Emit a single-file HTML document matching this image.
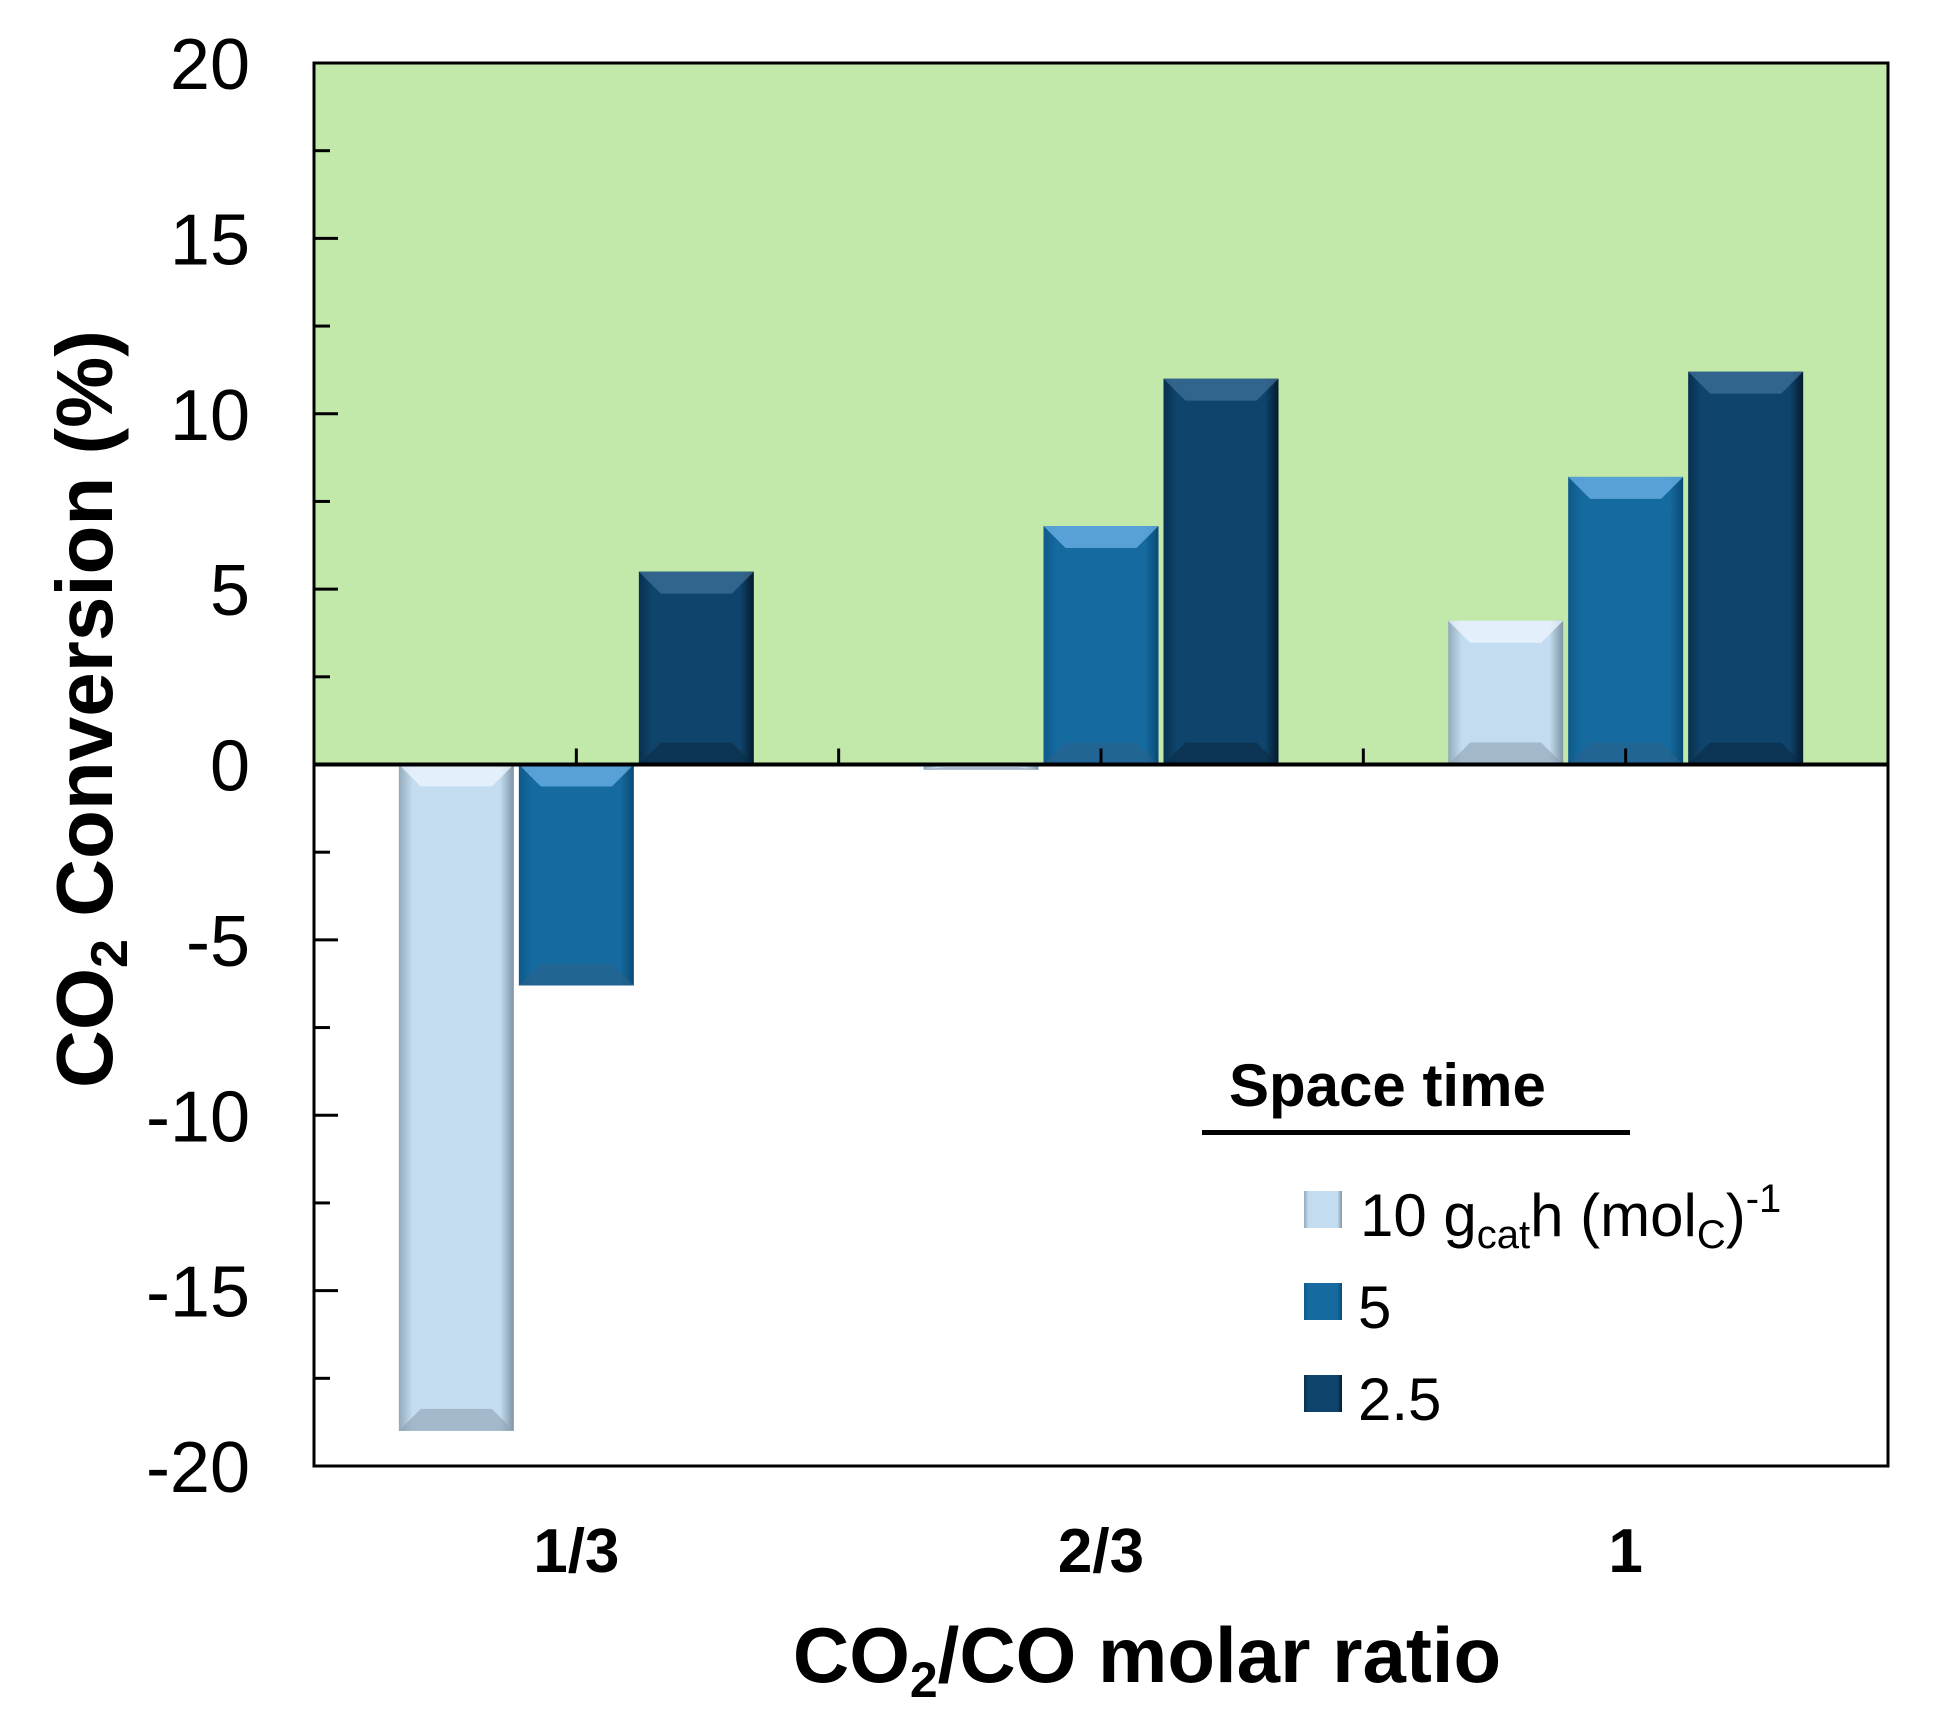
<!DOCTYPE html>
<html><head><meta charset="utf-8"><style>
html,body{margin:0;padding:0;background:#fff;}
svg{display:block;font-family:"Liberation Sans",Arial,sans-serif;}
</style></head><body>
<svg id="chart" width="1934" height="1728" viewBox="0 0 1934 1728">
<defs>
<linearGradient id="g0" x1="0" x2="1" y1="0" y2="0"><stop offset="0" stop-color="#93aabb"/><stop offset="0.12" stop-color="#c3dcef"/><stop offset="0.88" stop-color="#c3dcef"/><stop offset="1" stop-color="#7f95a6"/></linearGradient>
<linearGradient id="g1" x1="0" x2="1" y1="0" y2="0"><stop offset="0" stop-color="#0f5a8a"/><stop offset="0.12" stop-color="#156aa0"/><stop offset="0.88" stop-color="#156aa0"/><stop offset="1" stop-color="#0a4a75"/></linearGradient>
<linearGradient id="g2" x1="0" x2="1" y1="0" y2="0"><stop offset="0" stop-color="#08304f"/><stop offset="0.12" stop-color="#0f456d"/><stop offset="0.88" stop-color="#0f456d"/><stop offset="1" stop-color="#041a2c"/></linearGradient>
</defs>
<rect x="314" y="63" width="1574" height="701" fill="#c2e9aa"/>
<g id="bars"></g>
<g id="axes"></g>
<text transform="translate(112,709) rotate(-90)" text-anchor="middle" font-size="80" font-weight="bold">CO<tspan font-size="52" dy="15">2</tspan><tspan dy="-15"> Conversion (%)</tspan></text>
<text x="1147" y="1682" text-anchor="middle" font-size="78" font-weight="bold">CO<tspan font-size="50" dy="15">2</tspan><tspan dy="-15">/CO molar ratio</tspan></text>
<g>
<text x="1229" y="1106" font-size="60" font-weight="bold">Space time</text>
<rect x="1202" y="1130" width="428" height="5" fill="#000"/>
<rect x="1304" y="1191" width="38" height="37" fill="url(#g0)"/>
<text x="1360" y="1236" font-size="60">10 g<tspan font-size="40" dy="12">cat</tspan><tspan dy="-12">h (mol</tspan><tspan font-size="40" dy="12">C</tspan><tspan dy="-12">)</tspan><tspan font-size="40" dy="-24">-1</tspan></text>
<rect x="1304" y="1283" width="38" height="37" fill="url(#g1)"/>
<text x="1358" y="1328" font-size="60">5</text>
<rect x="1304" y="1375" width="38" height="37" fill="url(#g2)"/>
<text x="1358" y="1420" font-size="60">2.5</text>
</g>
</svg>
<script>
const categories = ["1/3", "2/3", "1"];
const series10 = [-19.0, -0.15, 4.1];
const series5 = [-6.3, 6.8, 8.2];
const series25 = [5.5, 11.0, 11.2];
const yTicks = [20, 15, 10, 5, 0, -5, -10, -15, -20];

const NS = "http://www.w3.org/2000/svg";
const L = 314, R = 1888, T = 63, B = 1466;
const yMin = -20, yMax = 20;
function y(v){ return B - (v - yMin) / (yMax - yMin) * (B - T); }
const bandW = (R - L) / categories.length;
function xc(i){ return L + bandW * (i + 0.5); }
function mk(tag, attrs, parent){ const e = document.createElementNS(NS, tag); for (const k in attrs) e.setAttribute(k, attrs[k]); parent.appendChild(e); return e; }

const barsG = document.getElementById('bars');
const axesG = document.getElementById('axes');
const allSeries = [series10, series5, series25];
const fills = ["url(#g0)", "url(#g1)", "url(#g2)"];
const topC = ["#eef7ff", "#6fb4e8", "#3f7099"];
const botC = ["#8ea2b2", "#2a628c", "#0a2c46"];
const sNames = ["10", "5", "2-5"];
const bw = 115, step = 120;
allSeries.forEach((arr, s) => {
  arr.forEach((v, i) => {
    const x0 = xc(i) + (s - 1) * step - bw / 2;
    const y0 = Math.min(y(v), y(0)), y1 = Math.max(y(v), y(0));
    const h = y1 - y0;
    const g = mk('g', {}, barsG);
    
    
    mk('rect', {x: x0, y: y0, width: bw, height: h, fill: fills[s]}, g);
    const bv = Math.min(22, h / 2), ins = Math.min(22, bw / 4);
    if (h > 4) {
      const top = y0, bot = y1;
      mk('polygon', {points: `${x0},${top} ${x0+bw},${top} ${x0+bw-ins},${top+bv} ${x0+ins},${top+bv}`, fill: topC[s], opacity: 0.75}, g);
      mk('polygon', {points: `${x0},${bot} ${x0+bw},${bot} ${x0+bw-ins},${bot-bv} ${x0+ins},${bot-bv}`, fill: botC[s], opacity: 0.6}, g);
    }
  });
});

const frame = mk('rect', {x: L, y: T, width: R - L, height: B - T, fill: 'none', stroke: '#000', 'stroke-width': 3}, axesG);


const zl = mk('line', {x1: L, x2: R, y1: y(0), y2: y(0), stroke: '#000', 'stroke-width': 4}, axesG);


for (let v = yMin; v <= yMax; v += 2.5) {
  const major = v % 5 === 0;
  mk('line', {x1: L, x2: L + (major ? 24 : 16), y1: y(v), y2: y(v), stroke: '#000', 'stroke-width': 3}, axesG);
}
yTicks.forEach(v => {
  const t = mk('text', {x: 250, y: y(v) + 26, 'text-anchor': 'end', 'font-size': 72}, axesG);
  t.textContent = String(v);
  
  
});
for (let k = 1; k < categories.length * 2; k++) {
  const xx = L + bandW * k / 2;
  mk('line', {x1: xx, x2: xx, y1: y(0), y2: y(0) - 16, stroke: '#000', 'stroke-width': 3}, axesG);
}
categories.forEach((c, i) => {
  const t = mk('text', {x: xc(i), y: 1572, 'text-anchor': 'middle', 'font-size': 62, 'font-weight': 'bold'}, axesG);
  t.textContent = c;
  
  
});
</script>
</body></html>
